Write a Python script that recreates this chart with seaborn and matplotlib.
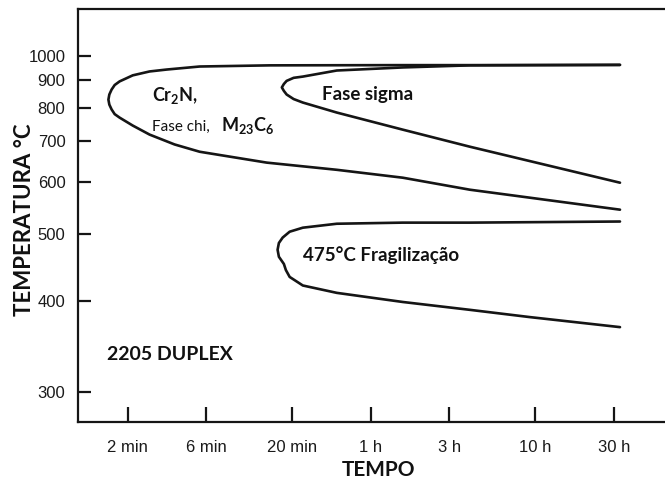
import numpy as np
import matplotlib
matplotlib.use("Agg")
import matplotlib.pyplot as plt
from matplotlib.ticker import NullLocator, FixedLocator, FixedFormatter
import seaborn as sns
import pandas as pd

# ---- data (time in minutes, temperature in °C) ----
cr2n_time = [1958, 240, 90, 14.6, 5.48, 3.45, 2.72, 2.15, 1.79, 1.67, 1.60, 1.55, 1.53,
             1.55, 1.60, 1.67, 1.79, 2.15, 2.72, 3.86, 5.48, 14.0, 37.3, 93.9, 240, 1958]
cr2n_temp = [962, 961, 961, 960, 955, 942, 934, 918, 894, 880, 863, 845, 827,
             810, 794, 779, 768, 744, 718, 691, 672, 645, 628, 610, 584, 544]

sigma_time = [1958, 240, 93.9, 37.3, 23.2, 20.4, 18.5, 17.8, 17.3, 17.8, 18.5, 20.4,
              23.2, 37.3, 93.9, 240, 1958]
sigma_temp = [962, 960, 951, 938, 913, 908, 896, 884, 871, 858, 845, 829,
              817, 784, 732, 685, 599]

frag_time = [1958, 240, 93.9, 37.3, 23.2, 19.3, 17.5, 16.6, 16.3, 16.6, 17.8, 18.3,
             19.3, 23.2, 37.3, 93.9, 240, 556, 1958]
frag_temp = [522, 520, 520, 518, 511, 504, 494, 485, 474, 463, 452, 443,
             433, 421, 411, 399, 389, 380, 368]

x_tick_values = [2, 6, 20, 60, 180, 600, 1800]
x_tick_labels = ["2 min", "6 min", "20 min", "1 h", "3 h", "10 h", "30 h"]
y_tick_values = [300, 400, 500, 600, 700, 800, 900, 1000]

curves = pd.concat([
    pd.DataFrame({"tempo": cr2n_time, "temp": cr2n_temp, "curva": "cr2n"}),
    pd.DataFrame({"tempo": sigma_time, "temp": sigma_temp, "curva": "sigma"}),
    pd.DataFrame({"tempo": frag_time, "temp": frag_temp, "curva": "frag"}),
], ignore_index=True)

# ---- style ----
sns.set_style("white")
plt.rcParams["font.family"] = ["Lato", "DejaVu Sans"]
plt.rcParams["mathtext.fontset"] = "custom"
plt.rcParams["mathtext.rm"] = "Lato"
plt.rcParams["mathtext.bf"] = "Lato:bold"

W, H = 665, 486
fig = plt.figure(figsize=(W / 100, H / 100), dpi=100)
L, R, B, T = 78, 665, 422, 9
ax = fig.add_axes([L / W, 1 - B / H, (R - L) / W, (B - T) / H])

ink = "#151515"
for name, grp in curves.groupby("curva", sort=False):
    sns.lineplot(data=grp, x="tempo", y="temp", sort=False, estimator=None,
                 color=ink, lw=1.9, ax=ax, legend=False)


def fwd(t):
    with np.errstate(divide="ignore", invalid="ignore"):
        return -1.0 / (np.asarray(t, dtype=float) + 273.0)


def inv(v):
    with np.errstate(divide="ignore", invalid="ignore"):
        return -1.0 / np.asarray(v, dtype=float) - 273.0


ax.set_xscale("log")
ax.set_yscale("function", functions=(fwd, inv))
ax.set_xlim(1.0, 3674)
ax.set_ylim(273, 1266)

ax.xaxis.set_major_locator(FixedLocator(x_tick_values))
ax.xaxis.set_major_formatter(FixedFormatter(x_tick_labels))
ax.xaxis.set_minor_locator(NullLocator())
ax.yaxis.set_major_locator(FixedLocator(y_tick_values))
ax.yaxis.set_major_formatter(FixedFormatter([str(v) for v in y_tick_values]))
ax.yaxis.set_minor_locator(NullLocator())

ax.tick_params(axis="x", bottom=True, top=False, direction="in", length=11,
               width=1.6, pad=13, color=ink, labelsize=12, labelcolor="#1a1a1a")
ax.tick_params(axis="y", left=True, right=False, direction="in", length=9,
               width=1.6, pad=9, color=ink, labelsize=12, labelcolor="#1a1a1a")
for lab in ax.get_xticklabels() + ax.get_yticklabels():
    lab.set_fontfamily("Liberation Sans")

for s in ["left", "bottom", "top"]:
    ax.spines[s].set_visible(True)
    ax.spines[s].set_color(ink)
    ax.spines[s].set_linewidth(1.6)
ax.spines["right"].set_visible(False)

ax.set_xlabel("TEMPO", fontsize=15, fontweight="bold", color="#111111", va="center")
ax.set_ylabel("TEMPERATURA °C", fontsize=16, fontweight="bold", color="#111111", va="center")
ax.xaxis.set_label_coords((379 - L) / (R - L), -(470 - B) / (B - T))
ax.yaxis.set_label_coords((25 - L) / (R - L), (B - 220) / (B - T))


def px(x, y):
    return x / W, 1 - y / H


txt = dict(color="#111111", va="baseline", ha="left")
fig.text(*px(152, 101), r"Cr$_{\mathbf{2}}$N,", fontsize=13, fontweight="bold", **txt)
fig.text(*px(152, 131), "Fase chi,", fontsize=11, **txt)
fig.text(*px(221, 131), r"M$_{\mathbf{23}}$C$_{\mathbf{6}}$", fontsize=13, fontweight="bold", **txt)
fig.text(*px(322, 100), "Fase sigma", fontsize=13.5, fontweight="bold", **txt)
fig.text(*px(303, 261), "475°C Fragilização", fontsize=13.5, fontweight="bold", **txt)
fig.text(*px(107, 360), "2205 DUPLEX", fontsize=14, fontweight="bold", **txt)

fig.savefig("out.png", dpi=100)
